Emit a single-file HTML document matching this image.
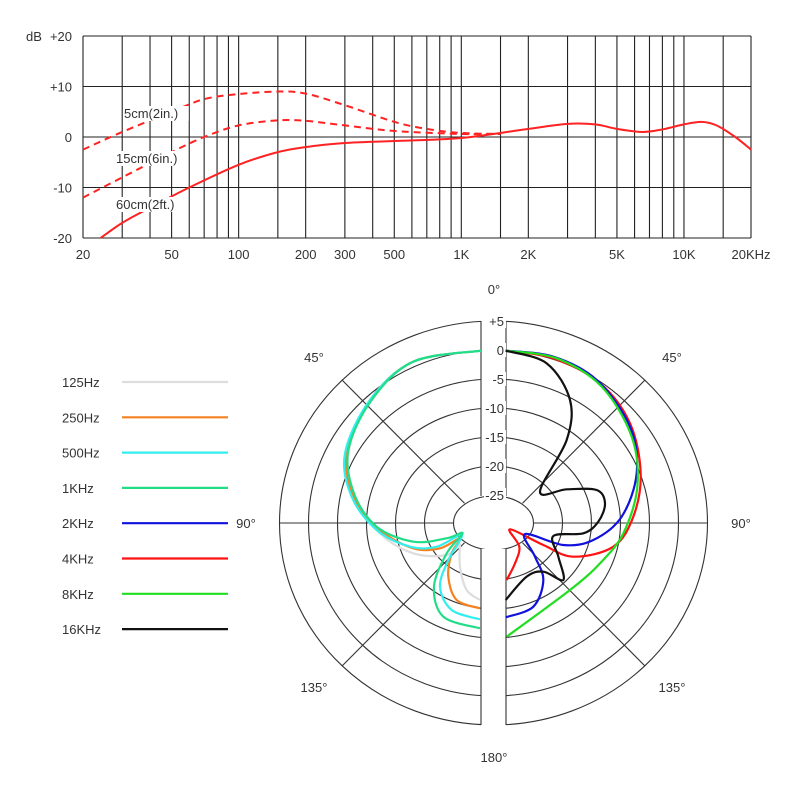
<!DOCTYPE html>
<html><head><meta charset="utf-8"><style>
body{margin:0;background:#fff;}
svg text{font-family:"Liberation Sans",sans-serif;fill:#333;}
</style></head><body>
<svg id="s" width="800" height="800" xmlns="http://www.w3.org/2000/svg"></svg>
<script>
const s=document.getElementById('s');const NS='http://www.w3.org/2000/svg';
function el(t,a,txt){const e=document.createElementNS(NS,t);for(const k in a)e.setAttribute(k,a[k]);if(txt!==undefined)e.textContent=txt;s.appendChild(e);return e;}
function smooth(p){let d='M'+p[0][0]+','+p[0][1];for(let i=0;i<p.length-1;i++){const p0=p[i-1]||p[i],p1=p[i],p2=p[i+1],p3=p[i+2]||p2;
d+=` C${p1[0]+(p2[0]-p0[0])/6},${p1[1]+(p2[1]-p0[1])/6} ${p2[0]-(p3[0]-p1[0])/6},${p2[1]-(p3[1]-p1[1])/6} ${p2[0]},${p2[1]}`;}return d;}
// top chart
const L=83,R=751,T=36,B=238;
const X=f=>L+Math.log10(f/20)/3*(R-L);const Y=db=>137-db*5.05;
const fs=[20,30,40,50,60,70,80,90,100,150,200,300,400,500,600,700,800,900,1000,1500,2000,3000,4000,5000,6000,7000,8000,9000,10000,15000,20000];
fs.forEach(f=>el('line',{x1:X(f),x2:X(f),y1:T,y2:B,stroke:'#222','stroke-width':1.1}));
[20,10,0,-10,-20].forEach(d=>el('line',{x1:L,x2:R,y1:Y(d),y2:Y(d),stroke:'#222','stroke-width':1.1}));
[['+20',20],['+10',10],['0',0],['-10',-10],['-20',-20]].forEach(([t,d])=>el('text',{x:72,y:Y(d)+5,'text-anchor':'end','font-size':13},t));
el('text',{x:26,y:41,'font-size':13},'dB');
[['20',20],['50',50],['100',100],['200',200],['300',300],['500',500],['1K',1000],['2K',2000],['5K',5000],['10K',10000],['20KHz',20000]].forEach(([t,f])=>el('text',{x:X(f),y:259,'text-anchor':'middle','font-size':13},t));
const pts=a=>a.map(([f,d])=>[X(f),Y(d)]);
el('path',{d:smooth(pts([[20,-2.5],[30,1],[50,5],[70,7.5],[100,8.5],[150,9],[200,8.6],[300,6.3],[500,3],[700,1.6],[1000,0.8],[1500,0.6]])),fill:'none',stroke:'#f22',"stroke-width":2,'stroke-dasharray':'7,5'});
el('path',{d:smooth(pts([[20,-12],[30,-8],[50,-3],[70,0],[100,2.3],[150,3.3],[200,3.2],[300,2.3],[500,1.2],[1000,0.6],[1500,0.6]])),fill:'none',stroke:'#f22',"stroke-width":2,'stroke-dasharray':'7,5'});
el('path',{d:smooth(pts([[24,-20],[30,-17],[40,-14],[60,-10],[100,-5.5],[150,-3],[200,-2],[300,-1.2],[500,-0.8],[1000,-0.2],[2000,1.6],[3000,2.6],[4000,2.5],[5000,1.6],[6500,1],[8000,1.5],[10000,2.5],[12000,3],[14000,2.3],[17000,0],[20000,-2.5]])),fill:'none',stroke:'#f22',"stroke-width":2});
[['5cm(2in.)',124,118],['15cm(6in.)',116,163],['60cm(2ft.)',116,209]].forEach(([t,x,y])=>{el('rect',{x:x-1,y:y-12,width:t.length*7.3,height:15,fill:'#fff'});el('text',{x:x,y:y,'font-size':13},t);});
// polar
const cx=493.5,cy=523;
for(let i=0;i<6;i++)el('ellipse',{cx:cx,cy:cy,rx:214-29*i,ry:202-29*i,fill:'none',stroke:'#333','stroke-width':1.1});
el('line',{x1:279,x2:708,y1:cy,y2:cy,stroke:'#333','stroke-width':1.1});
[[1,1],[1,-1],[-1,1],[-1,-1]].forEach(([a,b])=>{const c=Math.SQRT1_2;el('line',{x1:cx+a*c*41,y1:cy+b*c*28,x2:cx+a*c*214,y2:cy+b*c*202,stroke:'#333','stroke-width':1.1});});
el('ellipse',{cx:cx,cy:cy,rx:40,ry:27,fill:'#fff',stroke:'#333','stroke-width':1.1});
el('rect',{x:481,y:310,width:25,height:186,fill:'#fff'});
el('rect',{x:481,y:549,width:25,height:190,fill:'#fff'});
[[321,496],[549,725]].forEach(([a,b])=>{el('line',{x1:481,x2:481,y1:a,y2:b,stroke:'#333','stroke-width':1.1});el('line',{x1:506,x2:506,y1:a,y2:b,stroke:'#333','stroke-width':1.1});});
['+5','0','-5','-10','-15','-20','-25'].forEach((t,i)=>{const y=321+29*i;el('rect',{x:484,y:y-7,width:22,height:14,fill:'#fff'});el('text',{x:504,y:y+5,'text-anchor':'end','font-size':13},t);});
[['0°',494,294],['45°',314,362],['45°',672,362],['90°',246,528],['90°',741,528],['135°',314,692],['135°',672,692],['180°',494,762]].forEach(([t,x,y])=>el('text',{x:x,y:y,'text-anchor':'middle','font-size':13},t));
const Z=a=>a.map(([x,y])=>[280+x/3,300+y/3]);
function pc(a,c,w){el('path',{d:smooth(Z(a)),fill:'none',stroke:c,'stroke-width':w||2.2,'stroke-linejoin':'round'});}
pc([[603,152],[400,185],[270,300],[205,460],[225,590],[300,700],[400,760],[500,765],[540,730]],'#ddd');
pc([[540,730],[540,800],[560,870],[600,900]],'#ddd');
pc([[603,152],[400,185],[270,300],[200,460],[220,590],[300,690],[400,745],[480,745],[540,715],[515,760],[505,830],[530,900],[600,925]],'#f58220');
pc([[603,152],[400,185],[270,300],[195,460],[215,590],[290,690],[390,740],[470,740],[545,705],[505,780],[480,860],[515,930],[600,958]],'#33eeee');
pc([[603,152],[400,185],[275,300],[205,450],[222,580],[290,680],[400,725],[500,715],[548,700],[500,760],[462,860],[490,950],[600,985]],'#22dd88');
pc([[677,152],[820,175],[960,250],[1050,370],[1082,520],[1060,650],[1000,740],[880,770],[790,735],[690,688],[718,740],[705,790],[680,840]],'#f11');
pc([[677,152],[820,170],[950,240],[1050,380],[1070,520],[1025,650],[940,720],[850,735],[735,702],[765,770],[790,840],[760,920],[677,952]],'#11d');
pc([[677,152],[830,175],[965,260],[1055,410],[1072,560],[1030,700],[960,790],[870,870],[680,1010]],'#22dd22');
pc([[677,152],[800,190],[870,300],[860,420],[780,575],[860,568],[950,570],[975,610],[955,665],[910,700],[820,708],[835,770],[850,840],[790,815],[740,830],[677,900]],'#111');
// legend
[['125Hz','#ddd'],['250Hz','#f58220'],['500Hz','#33eeee'],['1KHz','#22dd88'],['2KHz','#11d'],['4KHz','#f11'],['8KHz','#22dd22'],['16KHz','#111']].forEach(([t,c],i)=>{const y=382+35.3*i;el('text',{x:62,y:y+5,'font-size':13},t);el('line',{x1:122,x2:228,y1:y,y2:y,stroke:c,'stroke-width':2.2});});
</script>
</body></html>
